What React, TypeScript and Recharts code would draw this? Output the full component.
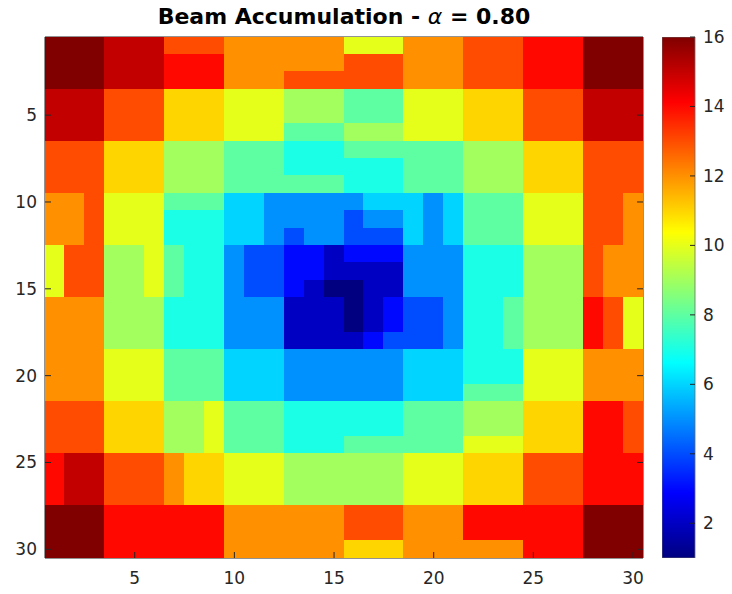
import { Bar, BarChart, Scatter, ScatterChart, XAxis, YAxis } from "recharts";

// beam accumulation grid, row 1 at the top
const rows: number[][] = [
  [16, 16, 16, 15, 15, 15, 13, 13, 13, 12, 12, 12, 12, 12, 12, 10, 10, 10, 12, 12, 12, 13, 13, 13, 14, 14, 14, 16, 16, 16],
  [16, 16, 16, 15, 15, 15, 14, 14, 14, 12, 12, 12, 12, 12, 12, 13, 13, 13, 12, 12, 12, 13, 13, 13, 14, 14, 14, 16, 16, 16],
  [16, 16, 16, 15, 15, 15, 14, 14, 14, 12, 12, 12, 13, 13, 13, 13, 13, 13, 12, 12, 12, 13, 13, 13, 14, 14, 14, 16, 16, 16],
  [15, 15, 15, 13, 13, 13, 11, 11, 11, 10, 10, 10, 9, 9, 9, 8, 8, 8, 10, 10, 10, 11, 11, 11, 13, 13, 13, 15, 15, 15],
  [15, 15, 15, 13, 13, 13, 11, 11, 11, 10, 10, 10, 9, 9, 9, 8, 8, 8, 10, 10, 10, 11, 11, 11, 13, 13, 13, 15, 15, 15],
  [15, 15, 15, 13, 13, 13, 11, 11, 11, 10, 10, 10, 8, 8, 8, 9, 9, 9, 10, 10, 10, 11, 11, 11, 13, 13, 13, 15, 15, 15],
  [13, 13, 13, 11, 11, 11, 9, 9, 9, 8, 8, 8, 7, 7, 7, 8, 8, 8, 8, 8, 8, 9, 9, 9, 11, 11, 11, 13, 13, 13],
  [13, 13, 13, 11, 11, 11, 9, 9, 9, 8, 8, 8, 7, 7, 7, 7, 7, 7, 8, 8, 8, 9, 9, 9, 11, 11, 11, 13, 13, 13],
  [13, 13, 13, 11, 11, 11, 9, 9, 9, 8, 8, 8, 8, 8, 8, 7, 7, 7, 8, 8, 8, 9, 9, 9, 11, 11, 11, 13, 13, 13],
  [12, 12, 13, 10, 10, 10, 8, 8, 8, 6, 6, 5, 5, 5, 5, 5, 6, 6, 6, 5, 6, 8, 8, 8, 10, 10, 10, 13, 13, 12],
  [12, 12, 13, 10, 10, 10, 7, 7, 7, 6, 6, 5, 5, 5, 5, 4, 5, 5, 6, 5, 6, 8, 8, 8, 10, 10, 10, 13, 13, 12],
  [12, 12, 13, 10, 10, 10, 7, 7, 7, 6, 6, 5, 4, 5, 5, 4, 4, 4, 6, 5, 6, 8, 8, 8, 10, 10, 10, 13, 13, 12],
  [10, 13, 13, 9, 9, 10, 8, 7, 7, 5, 4, 4, 3, 3, 2, 3, 3, 3, 5, 5, 5, 7, 7, 7, 9, 9, 9, 13, 12, 12],
  [10, 13, 13, 9, 9, 10, 8, 7, 7, 5, 4, 4, 3, 3, 2, 2, 2, 2, 5, 5, 5, 7, 7, 7, 9, 9, 9, 13, 12, 12],
  [10, 13, 13, 9, 9, 10, 8, 7, 7, 5, 4, 4, 3, 2, 1, 1, 2, 2, 5, 5, 5, 7, 7, 7, 9, 9, 9, 13, 12, 12],
  [12, 12, 12, 9, 9, 9, 7, 7, 7, 5, 5, 5, 2, 2, 2, 1, 2, 3, 4, 4, 5, 7, 7, 8, 9, 9, 9, 14, 13, 10],
  [12, 12, 12, 9, 9, 9, 7, 7, 7, 5, 5, 5, 2, 2, 2, 1, 2, 3, 4, 4, 5, 7, 7, 8, 9, 9, 9, 14, 13, 10],
  [12, 12, 12, 9, 9, 9, 7, 7, 7, 5, 5, 5, 2, 2, 2, 2, 3, 4, 4, 4, 5, 7, 7, 8, 9, 9, 9, 14, 13, 10],
  [12, 12, 12, 10, 10, 10, 8, 8, 8, 6, 6, 6, 5, 5, 5, 5, 5, 5, 6, 6, 6, 7, 7, 7, 10, 10, 10, 12, 12, 12],
  [12, 12, 12, 10, 10, 10, 8, 8, 8, 6, 6, 6, 5, 5, 5, 5, 5, 5, 6, 6, 6, 7, 7, 7, 10, 10, 10, 12, 12, 12],
  [12, 12, 12, 10, 10, 10, 8, 8, 8, 6, 6, 6, 5, 5, 5, 5, 5, 5, 6, 6, 6, 8, 8, 8, 10, 10, 10, 12, 12, 12],
  [13, 13, 13, 11, 11, 11, 9, 9, 10, 8, 8, 8, 7, 7, 7, 7, 7, 7, 8, 8, 8, 9, 9, 9, 11, 11, 11, 14, 14, 13],
  [13, 13, 13, 11, 11, 11, 9, 9, 10, 8, 8, 8, 7, 7, 7, 7, 7, 7, 8, 8, 8, 9, 9, 9, 11, 11, 11, 14, 14, 13],
  [13, 13, 13, 11, 11, 11, 9, 9, 10, 8, 8, 8, 7, 7, 7, 8, 8, 8, 8, 8, 8, 10, 10, 10, 11, 11, 11, 14, 14, 13],
  [14, 15, 15, 13, 13, 13, 12, 11, 11, 10, 10, 10, 9, 9, 9, 9, 9, 9, 10, 10, 10, 11, 11, 11, 13, 13, 13, 14, 14, 14],
  [14, 15, 15, 13, 13, 13, 12, 11, 11, 10, 10, 10, 9, 9, 9, 9, 9, 9, 10, 10, 10, 11, 11, 11, 13, 13, 13, 14, 14, 14],
  [14, 15, 15, 13, 13, 13, 12, 11, 11, 10, 10, 10, 9, 9, 9, 9, 9, 9, 10, 10, 10, 11, 11, 11, 13, 13, 13, 14, 14, 14],
  [16, 16, 16, 14, 14, 14, 14, 14, 14, 12, 12, 12, 12, 12, 12, 13, 13, 13, 12, 12, 12, 14, 14, 14, 14, 14, 14, 16, 16, 16],
  [16, 16, 16, 14, 14, 14, 14, 14, 14, 12, 12, 12, 12, 12, 12, 13, 13, 13, 12, 12, 12, 14, 14, 14, 14, 14, 14, 16, 16, 16],
  [16, 16, 16, 14, 14, 14, 14, 14, 14, 12, 12, 12, 12, 12, 12, 11, 11, 11, 12, 12, 12, 12, 12, 12, 14, 14, 14, 16, 16, 16],
];

const axisTicks = [5, 10, 15, 20, 25, 30];
const colorTicks = [2, 4, 6, 8, 10, 12, 14, 16];
const colorRange = [1, 16];
const colorBar = [{ name: "cb", range: colorRange }];

const cells = rows.flatMap((row, i) =>
  row.map((v, j) => ({ x: j + 1, y: i + 1, v }))
);

const W = 732;
const H = 594;
const PLOT_L = 45;
const PLOT_R = 643;
const PLOT_T = 37;
const PLOT_B = 558;
const cellW = (PLOT_R - PLOT_L) / 30;
const cellH = (PLOT_B - PLOT_T) / 30;

const INK = "#262626";
const FONT = "DejaVu Sans, sans-serif";
const TICK_FS = 17;

const clamp = (n: number) => Math.max(0, Math.min(1, n));

function jet(v: number) {
  const t = (v - colorRange[0]) / (colorRange[1] - colorRange[0]);
  const r = clamp(1.5 - Math.abs(4 * t - 3));
  const g = clamp(1.5 - Math.abs(4 * t - 2));
  const b = clamp(1.5 - Math.abs(4 * t - 1));
  const hex = (n: number) => Math.round(n * 255).toString(16).padStart(2, "0");
  return `#${hex(r)}${hex(g)}${hex(b)}`;
}

const CellShape = (props: any) => {
  const { cx, cy, payload } = props;
  return (
    <rect
      x={cx - cellW / 2 - 0.5}
      y={cy - cellH / 2 - 0.5}
      width={cellW + 1}
      height={cellH + 1}
      fill={jet(payload.v)}
      stroke="none"
      shapeRendering="crispEdges"
    />
  );
};

const BottomTick = ({ x, y, payload }: any) => (
  <g>
    <line x1={x} x2={x} y1={y} y2={y - 6} stroke={INK} />
    <text x={x} y={y + 26} textAnchor="middle" fontSize={TICK_FS} fill={INK} fontFamily={FONT}>
      {payload.value}
    </text>
  </g>
);

const TopTick = ({ x, y }: any) => (
  <line x1={x} x2={x} y1={y} y2={y + 6} stroke={INK} />
);

const LeftTick = ({ x, y, payload }: any) => (
  <g>
    <line x1={x} x2={x + 6} y1={y} y2={y} stroke={INK} />
    <text x={x - 8} y={y + 6} textAnchor="end" fontSize={TICK_FS} fill={INK} fontFamily={FONT}>
      {payload.value}
    </text>
  </g>
);

const RightTick = ({ x, y }: any) => (
  <line x1={x} x2={x - 6} y1={y} y2={y} stroke={INK} />
);

const BarTick = ({ x, y, payload }: any) => (
  <g>
    <line x1={x} x2={x - 5} y1={y} y2={y} stroke={INK} />
    <text x={x + 8} y={y + 6} textAnchor="start" fontSize={TICK_FS} fill={INK} fontFamily={FONT}>
      {payload.value}
    </text>
  </g>
);

export default function App() {
  return (
    <div style={{ position: "absolute", left: 0, top: 0, width: W, height: H, background: "#fff" }}>
      <div
        style={{
          position: "absolute",
          left: PLOT_L,
          width: PLOT_R - PLOT_L,
          top: 3,
          textAlign: "center",
          fontFamily: FONT,
          fontWeight: "bold",
          fontSize: 22,
          color: "#000",
          lineHeight: "28px",
        }}
      >
        Beam Accumulation - <span style={{ fontStyle: "italic", fontWeight: "normal" }}>α</span> = 0.80
      </div>

      <div style={{ position: "absolute", left: 0, top: 0 }}>
        <ScatterChart
          width={W}
          height={H}
          margin={{ top: PLOT_T - 1, left: PLOT_L - 40, right: W - PLOT_R - 1, bottom: H - PLOT_B - 30 }}
        >
          <Scatter data={cells} shape={CellShape} isAnimationActive={false} />
          <XAxis
            type="number"
            dataKey="x"
            domain={[0.5, 30.5]}
            ticks={axisTicks}
            interval={0}
            height={30}
            tickSize={0}
            tickMargin={0}
            tickLine={false}
            tick={BottomTick}
            axisLine={{ stroke: INK }}
            allowDataOverflow
          />
          <XAxis
            xAxisId="top"
            orientation="top"
            type="number"
            domain={[0.5, 30.5]}
            ticks={axisTicks}
            interval={0}
            height={1}
            tickSize={0}
            tickMargin={0}
            tickLine={false}
            tick={TopTick}
            axisLine={{ stroke: INK }}
            allowDataOverflow
          />
          <YAxis
            type="number"
            dataKey="y"
            domain={[0.5, 30.5]}
            reversed
            ticks={axisTicks}
            interval={0}
            width={40}
            tickSize={0}
            tickMargin={0}
            tickLine={false}
            tick={LeftTick}
            axisLine={{ stroke: INK }}
            allowDataOverflow
          />
          <YAxis
            yAxisId="right"
            orientation="right"
            type="number"
            domain={[0.5, 30.5]}
            reversed
            ticks={axisTicks}
            interval={0}
            width={1}
            tickSize={0}
            tickMargin={0}
            tickLine={false}
            tick={RightTick}
            axisLine={{ stroke: INK }}
            allowDataOverflow
          />
        </ScatterChart>
      </div>

      <div style={{ position: "absolute", left: 662, top: 0 }}>
        <BarChart
          width={70}
          height={H}
          data={colorBar}
          barCategoryGap={0}
          margin={{ top: PLOT_T, left: 0, right: 70 - 33 - 30, bottom: H - PLOT_B }}
        >
          <defs>
            <linearGradient id="jetGrad" x1="0" y1="0" x2="0" y2="1">
              <stop offset="0" stopColor="#800000" />
              <stop offset="0.125" stopColor="#ff0000" />
              <stop offset="0.375" stopColor="#ffff00" />
              <stop offset="0.625" stopColor="#00ffff" />
              <stop offset="0.875" stopColor="#0000ff" />
              <stop offset="1" stopColor="#000080" />
            </linearGradient>
          </defs>
          <XAxis dataKey="name" hide />
          <YAxis
            orientation="right"
            type="number"
            domain={colorRange}
            ticks={colorTicks}
            interval={0}
            width={30}
            tickSize={0}
            tickMargin={0}
            tickLine={false}
            tick={BarTick}
            axisLine={false}
            allowDataOverflow
          />
          <Bar dataKey="range" fill="url(#jetGrad)" stroke="#6b6b6b" strokeWidth={0.8} isAnimationActive={false} />
        </BarChart>
      </div>
    </div>
  );
}
